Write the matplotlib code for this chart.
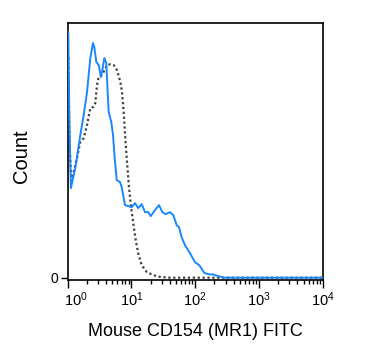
import numpy as np
import matplotlib
matplotlib.use("Agg")
import matplotlib.pyplot as plt
from matplotlib.transforms import ScaledTranslation
from matplotlib.ticker import LogLocator, NullFormatter

plt.rcParams['font.family'] = ['Liberation Sans', 'DejaVu Sans']
plt.rcParams['mathtext.default'] = 'regular'

# log10 fluorescence positions and counts
blue_log = [0.0, 0.01, 0.025, 0.05, 0.119, 0.198, 0.251, 0.303, 0.355, 0.397, 0.417,
            0.449, 0.486, 0.522, 0.549, 0.574, 0.605, 0.627, 0.643, 0.684, 0.711,
            0.737, 0.769, 0.820, 0.847, 0.899, 0.951, 1.004, 1.056, 1.107, 1.161,
            1.213, 1.264, 1.302, 1.369, 1.432, 1.484, 1.537, 1.605, 1.656, 1.710,
            1.746, 1.788, 1.840, 1.918, 1.997, 2.064, 2.143, 2.205, 2.284, 2.362,
            2.467, 3.0, 4.0]
blue_cnt = [246, 244, 160, 89.5, 109.5, 142.5, 162.5, 185.5, 219.5, 234.5, 230.5,
            215.5, 212.5, 200.5, 209.5, 219.5, 214.5, 185.5, 165.5, 155.5, 142.5,
            119.5, 97.5, 95.5, 90.5, 72.5, 71.5, 70.5, 74.5, 69.5, 73.5,
            65.5, 65.5, 61.5, 67.5, 72.5, 65.5, 63.5, 65.5, 62.5, 52.5,
            50.5, 40.5, 32.5, 24.5, 15.5, 12.5, 4.8, 3.5, 3.2, 1.5,
            0, 0, 0]

iso_log = [0.0, 0.01, 0.03, 0.056, 0.094, 0.146, 0.198, 0.251, 0.303, 0.355, 0.408,
           0.433, 0.460, 0.486, 0.527, 0.565, 0.616, 0.668, 0.722, 0.773, 0.825,
           0.852, 0.878, 0.907, 0.933, 0.960, 0.993, 1.029, 1.067, 1.107, 1.161,
           1.239, 1.343, 1.448, 1.605, 4.0]
iso_cnt = [225, 220, 130, 99.5, 105.8, 119.5, 135.8, 139.5, 152.5, 169.5, 170.8,
           174.5, 192.5, 200.8, 202.5, 205.8, 212.5, 213.2, 212.5, 207.5, 195.8,
           185.8, 165.8, 135.5, 113.5, 91.5, 70.8, 54.2, 37.5, 24.2, 12.5,
           5.8, 2.5, 0.8, 0, 0]

xtick_exps = [0, 1, 2, 3, 4]
ytick_vals = [0]
ytick_labels = ['0']

fig = plt.figure(figsize=(3.75, 3.6), dpi=100)
ax = fig.add_axes([67.7/375, 1-279.5/360, 255/375, 256.5/360])

ax.plot(10**np.array(iso_log), iso_cnt, color='#404040', lw=1.6,
        linestyle=(0, (1, 1.2)), zorder=2)
ax.plot(10**np.array(blue_log), blue_cnt, color='#1a87ff', lw=1.4, zorder=3)

ax.set_xscale('log')
ax.set_xlim(1, 1e4)
ax.set_ylim(-1.8, 254.5)

ax.set_xticks([10**e for e in xtick_exps])
ax.set_xticklabels([r'$10^{%d}$' % e for e in xtick_exps], fontsize=10.5)
ax.xaxis.set_minor_locator(LogLocator(base=10, subs=np.arange(2, 10), numticks=20))
ax.xaxis.set_minor_formatter(NullFormatter())
ax.set_yticks(ytick_vals)
ax.set_yticklabels(ytick_labels, fontsize=10)

ax.tick_params(axis='x', which='major', direction='out', length=6, width=1, pad=2)
ax.tick_params(axis='x', which='minor', direction='out', length=3, width=1)
ax.tick_params(axis='y', which='major', direction='out', length=5, width=1, pad=2)

for s in ax.spines.values():
    s.set_linewidth(1.2)

# first label shifted right as in the reference
lbl = ax.get_xticklabels()[0]
lbl.set_transform(lbl.get_transform() + ScaledTranslation(8/100, 0, fig.dpi_scale_trans))

ax.set_xlabel('Mouse CD154 (MR1) FITC', fontsize=13)
ax.set_ylabel('Count', fontsize=14.5)
ax.xaxis.set_label_coords(0.5, -0.168)
ax.yaxis.set_label_coords(-0.144, 0.48)

fig.savefig('out.png', dpi=100)
